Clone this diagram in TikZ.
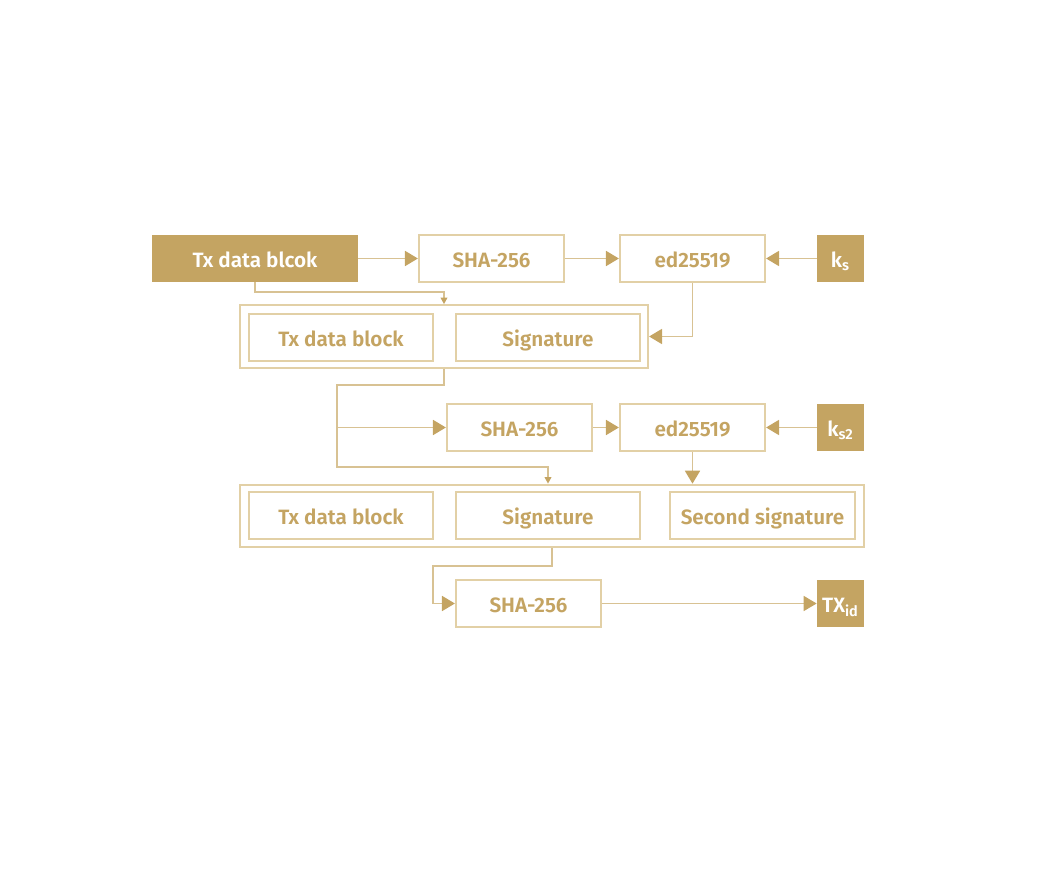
\documentclass[tikz,border=0pt]{standalone}
\usepackage{fontspec}
\setmainfont{Fira Sans}[BoldFont={Fira Sans SemiBold}]
\usetikzlibrary{arrows.meta}
\definecolor{gold}{HTML}{C4A462}
\definecolor{lightgold}{HTML}{E2D0A6}
\definecolor{linegold}{HTML}{D8C293}
\tikzset{
  box/.style={draw=lightgold,line width=1.2pt,fill=white,text=gold,font=\bfseries\fontsize{11.8}{14}\selectfont,minimum height=0.94cm,inner sep=0pt,text height=2.25ex,text depth=0.35ex},
  keybox/.style={fill=gold,text=white,font=\bfseries\fontsize{11.8}{14}\selectfont,minimum height=0.94cm,inner sep=0pt,text height=2.25ex,text depth=0.35ex},
  frame/.style={draw=lightgold,line width=1.2pt,minimum height=1.25cm,inner sep=0pt},
  conn/.style={draw=linegold,line width=1pt},
  big/.style={-{Triangle[length=0.26cm,width=0.3cm,color=gold]}},
  small/.style={-{Triangle[length=0.13cm,width=0.13cm,color=gold]}}
}
\begin{document}
\begin{tikzpicture}
  \useasboundingbox (0,0) rectangle (21,-17.38);
  \node [frame,minimum width=8.16cm] (outerA) at (8.88,-6.73) {};
  \node [frame,minimum width=12.48cm] (outerB) at (11.04,-10.32) {};

  \node [keybox,minimum width=4.12cm] (txraw) at (5.10,-5.17) {Tx data blcok};
  \node [box,minimum width=2.9cm] (shaA) at (9.83,-5.17) {SHA-256};
  \node [box,minimum width=2.9cm] (edA) at (13.85,-5.17) {ed25519};
  \node [keybox,minimum width=0.94cm] (ksA) at (16.81,-5.17) {k\textsubscript{s}};

  \node [box,minimum width=3.68cm] (txA) at (6.82,-6.75) {Tx data block};
  \node [box,minimum width=3.68cm] (sigA) at (10.96,-6.75) {Signature};

  \node [box,minimum width=2.9cm] (shaB) at (10.39,-8.55) {SHA-256};
  \node [box,minimum width=2.9cm] (edB) at (13.85,-8.55) {ed25519};
  \node [keybox,minimum width=0.94cm] (ksB) at (16.81,-8.55) {k\textsubscript{s2}};

  \node [box,minimum width=3.68cm] (txB) at (6.82,-10.31) {Tx data block};
  \node [box,minimum width=3.68cm] (sigB) at (10.96,-10.31) {Signature};
  \node [box,minimum width=3.7cm] (secB) at (15.25,-10.31) {Second signature};

  \node [box,minimum width=2.9cm] (shaC) at (10.57,-12.07) {SHA-256};
  \node [keybox,minimum width=0.94cm] (txid) at (16.81,-12.07) {TX\textsubscript{id}};

  \coordinate (split) at (6.74,-8.55);

  \draw [conn,big] (txraw) -- (shaA);
  \draw [conn,big] (shaA) -- (edA);
  \draw [conn,big] (ksA) -- (edA);
  \draw [conn,small] (txraw.south) -- ++(0,-0.2) -| (outerA.north);
  \draw [conn,big] (edA.south) |- (outerA.east);

  \draw [conn,small] (outerA.south) -- ++(0,-0.32) -| (6.74,-9.34) -| (sigB.north |- outerB.north);
  \draw [conn,big] (split) -- (shaB);
  \draw [conn,big] (shaB) -- (edB);
  \draw [conn,big] (ksB) -- (edB);
  \draw [conn,big] (edB.south) -- (edB.south |- outerB.north);

  \draw [conn,big] (outerB.south) -- ++(0,-0.36) -| (8.66,-12.07) -- (shaC);
  \draw [conn,big] (shaC) -- (txid);
\end{tikzpicture}
\end{document}
